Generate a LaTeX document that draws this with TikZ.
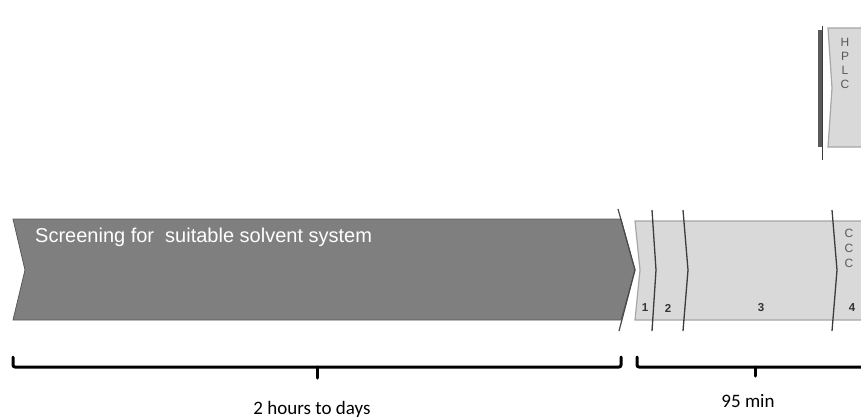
\documentclass[tikz,border=0pt]{standalone}
\usepackage{fontspec}
\setmainfont{Liberation Sans}
\newfontfamily\capfont{Carlito}
\usetikzlibrary{positioning,calc}
\definecolor{darkbar}{HTML}{7F7F7F}
\definecolor{darkedge}{HTML}{5A5A5A}
\definecolor{lightbar}{HTML}{D9D9D9}
\definecolor{lightedge}{HTML}{A6A6A6}
\definecolor{divc}{HTML}{3C3C3C}
\tikzset{
  stage/.style={fill=darkbar,draw=darkedge,line width=0.8pt,line join=miter},
  run/.style={fill=lightbar,draw=lightedge,line width=1.2pt},
  divider/.style={draw=divc,line width=1.3pt},
  brace/.style={draw=black,line width=3pt,line cap=round,line join=round,rounded corners=2pt},
  steplab/.style={font=\fontsize{11.5}{11.5}\selectfont\bfseries,text=black!80,inner sep=0pt},
  vlet/.style={font=\fontsize{12}{15}\selectfont,text=black!65,align=center,inner sep=0pt},
  timelab/.style={font=\capfont\fontsize{19}{19}\selectfont,inner sep=0pt},
}
\begin{document}
\begin{tikzpicture}[x=1pt,y=-1pt]
  \useasboundingbox (0,0) rectangle (861,418);
  % screening arrow
  \draw[stage] (13,219) -- (621,219) -- (635,270) -- (621,320) -- (13,320) -- (25,270) -- cycle;
  \draw[divider,draw=darkedge!80!black,line width=1.2pt] (618,209) -- (635,270) -- (619,331);
  \node[anchor=west,text=white,font=\fontsize{20}{20}\selectfont,inner sep=0pt] (screen)
    at (35,237) {Screening for\ \ suitable solvent system};
  % CCC run
  \draw[run] (635,221) -- (875,221) -- (875,320) -- (635,320) -- (640,270) -- cycle;
  \foreach \xa/\xb in {652/656,683/688,832/837}
    \draw[divider] (\xa,210) -- (\xb,270) -- (\xa,331);
  \node[steplab] (s1) at (645,308) {1};
  \node[steplab] (s2) at (668,308) {2};
  \node[steplab] (s3) at (761,308) {3};
  \node[steplab] (s4) at (852,308) {4};
  \node[vlet] (ccc) at (849,248) {C\\C\\C};
  % HPLC
  \draw[run] (828,28) -- (875,28) -- (875,147) -- (828,147) -- (832,88) -- cycle;
  \draw[draw=darkedge,line width=4pt] (819.5,30) -- (819.5,147);
  \draw[divider,line width=1pt] (822.5,26) -- (822.5,160);
  \node[vlet,font=\fontsize{12}{14}\selectfont] (hplc) at (845,63) {H\\P\\L\\C};
  % time braces
  \draw[brace] (13,357) -- (13,367) -- (621,367) -- (621,357);
  \coordinate (tl) at (317,367);
  \draw[brace,rounded corners=0pt] (tl) -- ++(0,11);
  \node[timelab] (tlong) at (312,409) {2 hours to days};
  \draw[brace] (637,357) -- (637,367) -- (875,367);
  \coordinate (tr) at (755,367);
  \draw[brace,rounded corners=0pt] (tr) -- ++(0,9);
  \node[timelab] (tshort) at (748,401) {95 min};
\end{tikzpicture}
\end{document}
